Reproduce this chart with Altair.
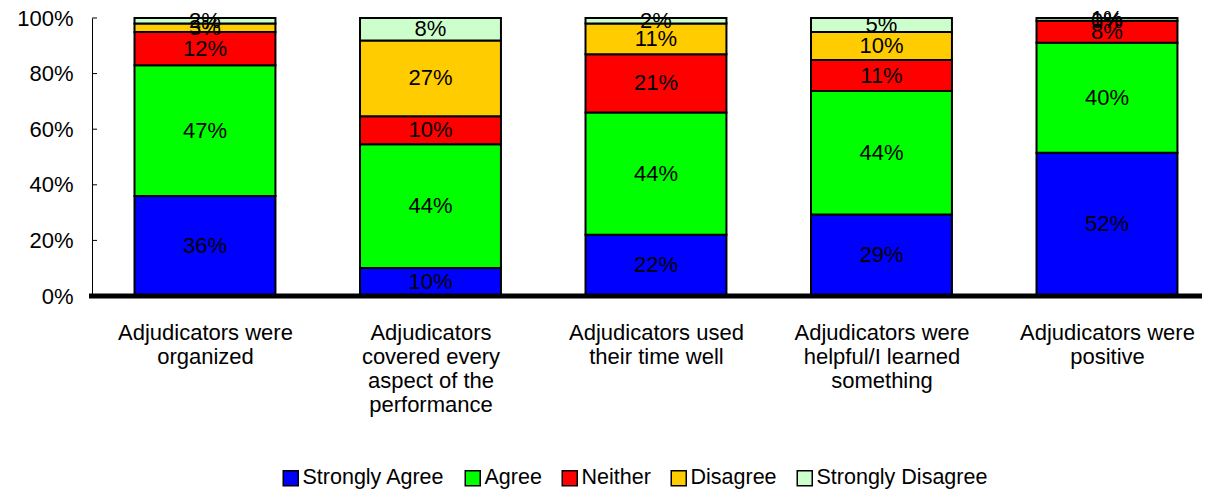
import json
import altair as alt
import pandas as pd

categories = [
    "Adjudicators were|organized",
    "Adjudicators|covered every|aspect of the|performance",
    "Adjudicators used|their time well",
    "Adjudicators were|helpful/I learned|something",
    "Adjudicators were|positive",
]
levels = ["Strongly Agree", "Agree", "Neither", "Disagree", "Strongly Disagree"]
colors = ["#0000FF", "#00FF00", "#FF0000", "#FFCC00", "#CCFFCC"]

strongly_agree = [36, 10, 22, 29, 52]
agree = [47, 44, 44, 44, 40]
neither = [12, 10, 21, 11, 8]
disagree = [3, 27, 11, 10, 0]
strongly_disagree = [2, 8, 2, 5, 1]

y_ticks = [0, 0.2, 0.4, 0.6, 0.8, 1.0]

series = [strongly_agree, agree, neither, disagree, strongly_disagree]
half_bar = 0.3125
rows = []
for qi, q in enumerate(categories):
    vals = [s[qi] for s in series]
    total = sum(vals)
    cum = 0
    for lev, v in zip(levels, vals):
        rows.append({
            "i": qi,
            "x0": qi - half_bar,
            "x1": qi + half_bar,
            "level": lev,
            "order": levels.index(lev),
            "y0": cum / total,
            "y1": (cum + v) / total,
            "ymid": (cum + v / 2) / total,
            "label": f"{v}%",
        })
        cum += v
df = pd.DataFrame(rows)

W, H = 1108, 278
xscale = alt.Scale(domain=[-0.501, 4.4125], nice=False, zero=False)
yscale = alt.Scale(domain=[0, 1])

label_expr = "split(" + json.dumps(categories) + "[datum.value], '|')"

bars = alt.Chart(df).mark_bar(stroke="black", strokeWidth=2).encode(
    x=alt.X(
        "x0:Q",
        scale=xscale,
        axis=alt.Axis(
            title=None,
            values=list(range(len(categories))),
            labelExpr=label_expr,
            labelAngle=0,
            labelFontSize=22,
            labelLineHeight=24,
            labelPadding=26,
            labelBaseline="top",
            labelAlign="center",
            labelColor="black",
            labelFlush=False,
            labelOverlap=False,
            domain=False,
            ticks=False,
            grid=False,
            labelLimit=300,
        ),
    ),
    x2="x1:Q",
    y=alt.Y(
        "y0:Q",
        scale=yscale,
        axis=alt.Axis(
            title=None,
            format="%",
            values=y_ticks,
            grid=False,
            ticks=False,
            labelFontSize=22,
            labelColor="black",
            labelPadding=19,
            domainColor="black",
            domainWidth=1,
        ),
    ),
    y2="y1:Q",
    color=alt.Color(
        "level:N",
        sort=levels,
        scale=alt.Scale(domain=levels, range=colors),
        legend=alt.Legend(
            title=None,
            orient="none",
            direction="horizontal",
            legendX=188,
            legendY=449,
            symbolType="square",
            symbolSize=225,
            symbolStrokeColor="black",
            symbolStrokeWidth=1.5,
            symbolOpacity=1,
            labelFontSize=21.5,
            labelColor="black",
            labelOffset=1,
            labelLimit=400,
            columnPadding=17,
        ),
    ),
    order=alt.Order("order:Q"),
)

labels = alt.Chart(df).mark_text(fontSize=22, color="black").encode(
    x=alt.X("i:Q", scale=xscale),
    y=alt.Y("ymid:Q", scale=yscale),
    text="label:N",
)

ticks = alt.Chart(pd.DataFrame({"t": y_ticks})).mark_rule(color="black", strokeWidth=1).encode(
    y=alt.Y("t:Q", scale=yscale),
    x=alt.value(0),
    x2=alt.value(5),
)

baseline = alt.Chart(pd.DataFrame({"b": [0]})).mark_rule(color="black", strokeWidth=5).encode(
    x=alt.value(-3),
    x2=alt.value(1113),
    y=alt.value(H),
)

chart = (
    alt.layer(bars, labels, ticks, baseline)
    .properties(
        width=W,
        height=H,
        autosize=alt.AutoSizeParams(type="none"),
        padding={"left": 84, "top": 10, "right": 2, "bottom": 193},
    )
    .configure(font="Liberation Sans")
    .configure_view(stroke=None)
)

chart.save("out.html", embed_options={"renderer": "svg", "actions": False})
